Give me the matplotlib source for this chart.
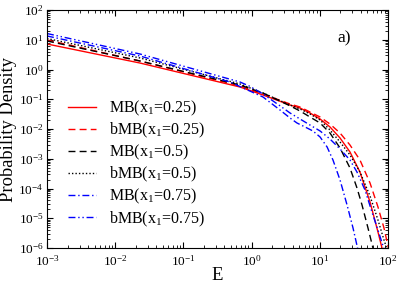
import matplotlib
matplotlib.use('Agg')
import matplotlib.pyplot as plt
import numpy as np

plt.rcParams['font.family'] = 'Liberation Serif'
plt.rcParams['mathtext.fontset'] = 'custom'
plt.rcParams['mathtext.rm'] = 'Liberation Serif'
plt.rcParams['mathtext.it'] = 'Liberation Serif:italic'

# values
E_mb25 = [1e-3, 0.0231, 0.676, 1.47, 3.66, 5.13, 7.18, 10.1, 14.1, 19.8, 27.7, 38.8, 54.5, 71.3, 81.6, 85]
P_mb25 = [7.2, 1.65, 0.258, 0.139, 0.0641, 0.0508, 0.0345, 0.0217, 0.0117, 0.00498, 0.00169, 3.58e-4,
          3.52e-5, 3.45e-6, 1e-6, 6e-7]

E_bmb25 = [1e-3, 0.0231, 0.676, 1.47, 3.66, 5.13, 7.18, 10.1, 14.1, 19.8, 27.7, 38.8, 54.5, 71.3, 87.3, 103]
P_bmb25 = [9.8, 1.93, 0.279, 0.150, 0.0692, 0.0548, 0.0373, 0.0253, 0.0147, 0.00733, 0.0029, 9.08e-4,
           1.53e-4, 2.39e-5, 4.7e-6, 8.6e-7]

E_mb50 = [1e-3, 0.0231, 0.676, 1.47, 3.66, 5.13, 7.18, 10.1, 14.1, 19.8, 27.7, 35.1, 41.6, 50.9, 60.2, 63]
P_mb50 = [9.1, 1.93, 0.301, 0.162, 0.060, 0.0403, 0.0253, 0.0159, 0.00733, 0.0023, 4.89e-4, 1.04e-4,
          2.79e-5, 4.7e-6, 1e-6, 6e-7]

E_bmb50 = [1e-3, 0.0231, 0.676, 1.47, 3.66, 5.13, 7.18, 10.1, 14.1, 19.8, 27.7, 38.8, 54.5, 71.3, 87.3, 100]
P_bmb50 = [11.0, 2.44, 0.326, 0.162, 0.064, 0.047, 0.0319, 0.0201, 0.00925, 0.00366, 0.00134, 3.58e-4,
           5.6e-5, 8.7e-6, 1.86e-6, 7.3e-7]

E_mb75 = [1e-3, 0.0231, 0.482, 1.47, 2.61, 3.66, 4.63, 6.07, 7.94, 10.1, 12.8, 15.6, 19.8, 25.1, 30.7, 36.3]
P_mb75 = [13.4, 2.84, 0.38, 0.119, 0.0435, 0.0234, 0.0159, 0.0117, 0.00857, 0.00538, 0.00248, 9.08e-4,
          1.93e-4, 2.79e-5, 4.7e-6, 8.6e-7]

E_bmb75 = [1e-3, 0.0231, 0.676, 0.948, 1.47, 2.61, 3.66, 5.13, 7.18, 10.1, 14.1, 19.8, 27.7, 35.1, 46.0,
           58.2, 71.3, 90.3]
P_bmb75 = [16.2, 3.32, 0.38, 0.27, 0.15, 0.06, 0.0345, 0.0217, 0.0136, 0.00857, 0.00461, 0.00213, 9.08e-4,
           3.58e-4, 8.9e-5, 1.62e-5, 4.0e-6, 7.3e-7]

labels = [r'MB(x$_1$=0.25)', r'bMB(x$_1$=0.25)', r'MB(x$_1$=0.5)',
          r'bMB(x$_1$=0.5)', r'MB(x$_1$=0.75)', r'bMB(x$_1$=0.75)']

fig = plt.figure(figsize=(3.99, 2.84), dpi=100)
ax = fig.add_axes([47/399, 1-248/284, 341/399, 238/284])

ax.plot(E_mb25, P_mb25, color='red', lw=1.0, ls='-', label=labels[0])
ax.plot(E_bmb25, P_bmb25, color='red', lw=1.0, ls=(0, (5, 3)), label=labels[1])
ax.plot(E_mb50, P_mb50, color='black', lw=1.0, ls=(0, (5, 3)), label=labels[2])
ax.plot(E_bmb50, P_bmb50, color='black', lw=1.0, ls=(0, (1, 1.5)), label=labels[3])
ax.plot(E_mb75, P_mb75, color='blue', lw=1.0, ls=(0, (5, 2, 1, 2)), label=labels[4])
ax.plot(E_bmb75, P_bmb75, color='blue', lw=1.0, ls=(0, (5, 2, 1, 2, 1, 2)), label=labels[5])

ax.set_xscale('log')
ax.set_yscale('log')
ax.set_xlim(1e-3, 1e2)
ax.set_ylim(1e-6, 1e2)
ax.set_xlabel('E', fontsize=13.5, labelpad=-1)
ax.set_ylabel('Probability Density', fontsize=13.3)
ax.yaxis.set_label_coords(-0.088, 0.5)
ax.tick_params(which='both', direction='in', top=True, right=True, labelsize=9.5)
ax.tick_params(which='major', length=4)
ax.tick_params(axis='x', which='major', pad=4.5)
ax.tick_params(axis='y', which='major', pad=2.5)
ax.tick_params(which='minor', length=2)
ax.yaxis.set_minor_locator(matplotlib.ticker.LogLocator(base=10, subs=np.arange(2, 10), numticks=20))
ax.yaxis.set_minor_formatter(matplotlib.ticker.NullFormatter())

ax.text(0.853, 0.866, 'a)', transform=ax.transAxes, fontsize=12.5)

ax.legend(loc='lower left', bbox_to_anchor=(0.044, 0.055), frameon=False, fontsize=11.5,
          handlelength=1.75, labelspacing=0.18, handletextpad=0.8, borderaxespad=0.0)

plt.savefig('out.png', dpi=100)
plt.close()
